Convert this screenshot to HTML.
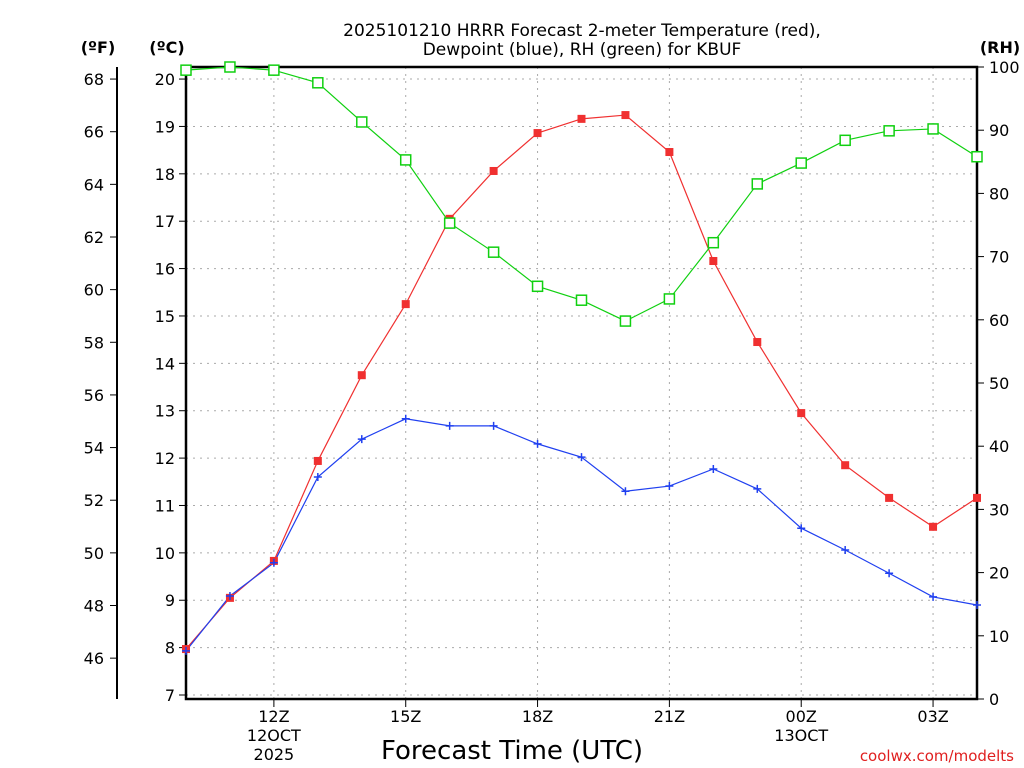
<!DOCTYPE html>
<html><head><meta charset="utf-8"><style>
body{margin:0;background:#fff;}
svg{display:block;font-family:"DejaVu Sans","Liberation Sans",sans-serif;}
</style></head><body>
<svg id="c" width="1024" height="768" viewBox="0 0 1024 768">
<text x="582" y="36" font-size="17" text-anchor="middle" fill="#000">2025101210 HRRR Forecast 2-meter Temperature (red),</text>
<text x="582" y="55" font-size="17" text-anchor="middle" fill="#000">Dewpoint (blue), RH (green) for KBUF</text>
<text x="98" y="53" font-size="16" font-weight="bold" text-anchor="middle">(ºF)</text>
<text x="167" y="53" font-size="16" font-weight="bold" text-anchor="middle">(ºC)</text>
<text x="1000" y="53" font-size="16" font-weight="bold" text-anchor="middle">(RH)</text>
<text x="512" y="759" font-size="26" text-anchor="middle">Forecast Time (UTC)</text>
<text x="1014" y="761" font-size="15" text-anchor="end" fill="#e02020">coolwx.com/modelts</text>
<g id="grid"></g><g id="axes"></g><g id="series"></g>
</svg>
<script>
const hours=["10Z","11Z","12Z","13Z","14Z","15Z","16Z","17Z","18Z","19Z","20Z","21Z","22Z","23Z","00Z","01Z","02Z","03Z","04Z"];
const tempC=[7.97,9.05,9.83,11.94,13.75,15.25,17.05,18.06,18.86,19.16,19.24,18.46,16.16,14.45,12.95,11.85,11.16,10.55,11.16];
const dewC=[7.93,9.09,9.79,11.6,12.4,12.83,12.68,12.68,12.3,12.02,11.3,11.41,11.77,11.35,10.52,10.06,9.57,9.07,8.9];
const rh=[99.5,100,99.5,97.5,91.3,85.3,75.3,70.7,65.3,63.1,59.8,63.3,72.2,81.5,84.8,88.4,89.9,90.2,85.8];
const cTicks=[7,8,9,10,11,12,13,14,15,16,17,18,19,20];
const fTicks=[46,48,50,52,54,56,58,60,62,64,66,68];
const rhTicks=[0,10,20,30,40,50,60,70,80,90,100];
const xLabels=[{i:2,t:["12Z","12OCT","2025"]},{i:5,t:["15Z"]},{i:8,t:["18Z"]},{i:11,t:["21Z"]},{i:14,t:["00Z","13OCT"]},{i:17,t:["03Z"]}];
const L=186,R=977,T=67,B=699;
const x=i=>L+i*(R-L)/18;
const yC=c=>695-(c-7)*47.38;
const yF=f=>yC((f-32)*5/9);
const yR=r=>B-r*(B-T)/100;
const NS="http://www.w3.org/2000/svg";
function mk(p,tag,a){const e=document.createElementNS(NS,tag);for(const k in a)e.setAttribute(k,a[k]);p.appendChild(e);return e;}
const g=document.getElementById('grid'),ax=document.getElementById('axes'),s=document.getElementById('series');
cTicks.forEach(c=>{const e=mk(g,'line',{x1:L,x2:R,y1:yC(c),y2:yC(c),stroke:'#aaa','stroke-dasharray':'2,5'});


const t=mk(ax,'text',{x:L-11,y:yC(c)+6,'font-size':16,'text-anchor':'end'});t.textContent=c;


mk(ax,'line',{x1:L-7,x2:L,y1:yC(c),y2:yC(c),stroke:'#000'});});
xLabels.forEach(o=>{const e=mk(g,'line',{x1:x(o.i),x2:x(o.i),y1:T,y2:B,stroke:'#aaa','stroke-dasharray':'2,5'});


mk(ax,'line',{x1:x(o.i),x2:x(o.i),y1:B,y2:B+8,stroke:'#000'});
o.t.forEach((tt,k)=>{const t=mk(ax,'text',{x:x(o.i),y:B+23+k*19,'font-size':16,'text-anchor':'middle'});t.textContent=tt;

});});
fTicks.forEach(f=>{mk(ax,'line',{x1:110,x2:117,y1:yF(f),y2:yF(f),stroke:'#000'});
const t=mk(ax,'text',{x:104,y:yF(f)+6,'font-size':16,'text-anchor':'end'});t.textContent=f;

});
mk(ax,'line',{x1:117,x2:117,y1:T,y2:B,stroke:'#000','stroke-width':2});
rhTicks.forEach(r=>{mk(ax,'line',{x1:R,x2:R+7,y1:yR(r),y2:yR(r),stroke:'#000'});
const t=mk(ax,'text',{x:R+12,y:yR(r)+6,'font-size':16});t.textContent=r;

});
const fr=mk(ax,'rect',{x:L,y:T,width:R-L,height:B-T,fill:'none',stroke:'#000','stroke-width':2.5});


function line(vals,yf,col,name){const p=mk(s,'polyline',{points:vals.map((v,i)=>x(i)+','+yf(v)).join(' '),fill:'none',stroke:col,'stroke-width':1.2});

}
line(tempC,yC,'#f03030','temperature-line');
line(dewC,yC,'#2040f0','dewpoint-line');
line(rh,yR,'#10d010','rh-line');
tempC.forEach((v,i)=>{const e=mk(s,'rect',{x:x(i)-4,y:yC(v)-4,width:8,height:8,fill:'#f03030'});

});
dewC.forEach((v,i)=>{const e=mk(s,'path',{d:`M${x(i)-4},${yC(v)}h8M${x(i)},${yC(v)-4}v8`,stroke:'#2040f0','stroke-width':1.5});

});
rh.forEach((v,i)=>{const e=mk(s,'rect',{x:x(i)-5,y:yR(v)-5,width:10,height:10,fill:'#fff',stroke:'#10d010','stroke-width':1.5});

});
</script>
</body></html>
